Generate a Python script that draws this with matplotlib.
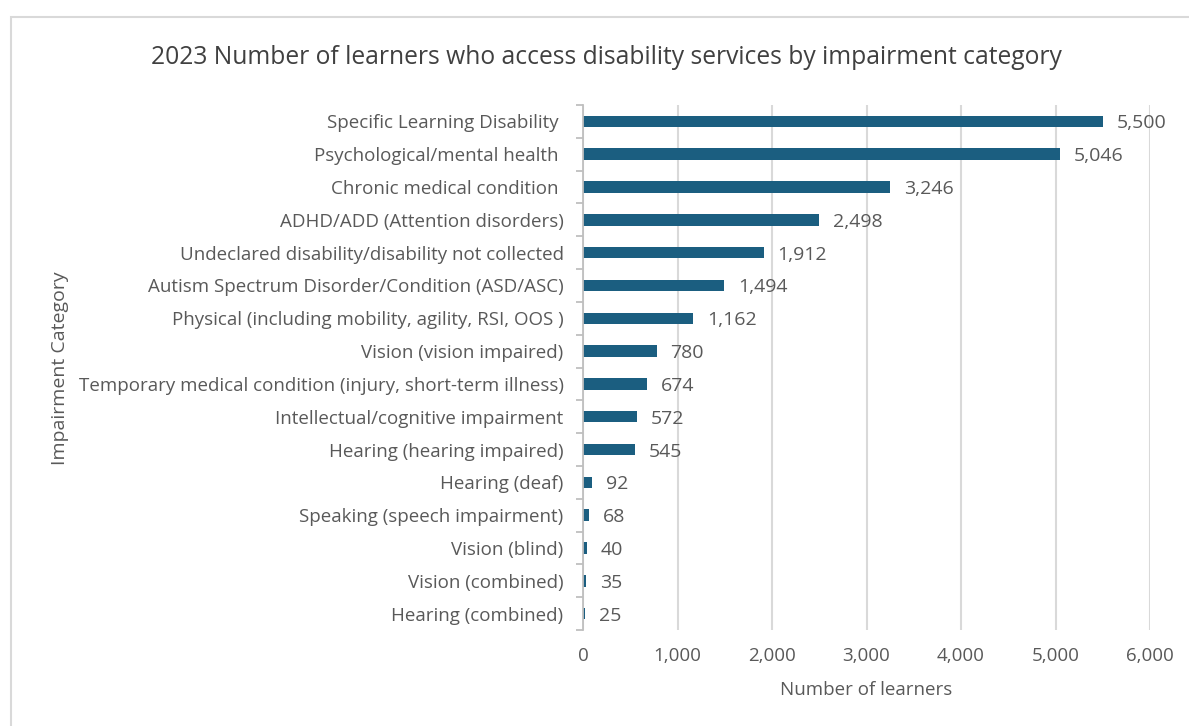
import matplotlib.pyplot as plt
from matplotlib.patches import Rectangle
from matplotlib.ticker import FuncFormatter, FixedLocator

# data, top to bottom as in the chart
categories = [
    "Specific Learning Disability ",
    "Psychological/mental health ",
    "Chronic medical condition ",
    "ADHD/ADD (Attention disorders)",
    "Undeclared disability/disability not collected",
    "Autism Spectrum Disorder/Condition (ASD/ASC)",
    "Physical (including mobility, agility, RSI, OOS )",
    "Vision (vision impaired)",
    "Temporary medical condition (injury, short-term illness)",
    "Intellectual/cognitive impairment",
    "Hearing (hearing impaired)",
    "Hearing (deaf)",
    "Speaking (speech impairment)",
    "Vision (blind)",
    "Vision (combined)",
    "Hearing (combined)",
]
learners = [5500, 5046, 3246, 2498, 1912, 1494, 1162, 780, 674, 572, 545, 92, 68, 40, 35, 25]

plt.rcParams['font.family'] = ['Open Sans', 'DejaVu Sans']
bar_color = "#1B5E80"
text_color = "#595959"

fig = plt.figure(figsize=(11.89, 7.26), dpi=100)
# chart area border like the Excel frame
fig.patches.append(Rectangle((11 / 1189, -0.1), 1.2, 1 - 17 / 726 + 0.1,
                             transform=fig.transFigure, fill=False,
                             edgecolor="#D9D9D9", linewidth=1.5))

ax = fig.add_axes([583 / 1189, 1 - 630 / 726, (1150 - 583) / 1189, (630 - 105) / 726])

n = len(categories)
ypos = list(range(n))[::-1]
ax.barh(ypos, learners, height=0.35, color=bar_color, zorder=3)

for y, v in zip(ypos, learners):
    ax.annotate(f"{v:,}", (v, y), xytext=(10, 0), textcoords="offset points",
                va="center_baseline", ha="left", fontsize=14, color=text_color)

ax.set_xlim(0, 6000)
ax.set_ylim(-0.5, n - 0.5)
ax.set_xticks(range(0, 6001, 1000))
ax.xaxis.set_major_formatter(FuncFormatter(lambda v, p: f"{int(v):,}"))
ax.set_yticks(ypos)
ax.set_yticklabels(categories)
ax.yaxis.set_minor_locator(FixedLocator([i - 0.5 for i in range(n + 1)]))

ax.tick_params(axis="y", which="major", length=0, pad=14, labelsize=13.5, labelcolor=text_color)
ax.tick_params(axis="y", which="minor", length=5, color="#BFBFBF", width=1.3)
ax.tick_params(axis="x", length=0, pad=12, labelsize=13.5, labelcolor=text_color)

ax.grid(axis="x", color="#D9D9D9", linewidth=1.5, zorder=0)
for s in ["top", "right", "bottom"]:
    ax.spines[s].set_visible(False)
ax.spines["left"].set_color("#BFBFBF")
ax.spines["left"].set_linewidth(1.3)
ax.spines["left"].set_zorder(4)

ax.set_xlabel("Number of learners", fontsize=13.5, color=text_color, labelpad=12)
fig.text(60 / 1189, 1 - 368 / 726, "Impairment Category", rotation=90,
         ha="center", va="center", fontsize=14, color=text_color)
fig.text(606 / 1189, 1 - 57 / 726,
         "2023 Number of learners who access disability services by impairment category",
         ha="center", va="center", fontsize=17.7, color="#404040")

fig.savefig("out.png", dpi=100)
